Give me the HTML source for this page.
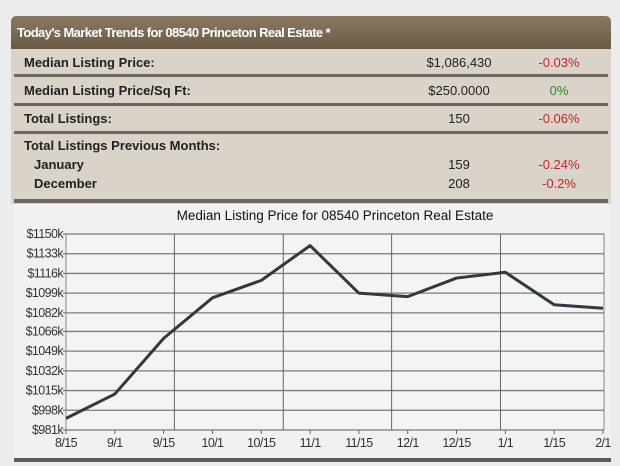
<!DOCTYPE html>
<html><head><meta charset="utf-8"><style>
body{margin:0;width:620px;height:466px;background:#ececec;font-family:"Liberation Sans",sans-serif;position:relative;overflow:hidden}
.abs{position:absolute}
#hdr{left:11px;top:16px;width:600px;height:33px;background:linear-gradient(#8a7a63,#6a5a43);border-radius:5px 5px 0 0;color:#fff;font-weight:bold;font-size:13px;line-height:34px;letter-spacing:-0.6px;padding-left:6px;box-sizing:border-box}
#tbl{left:11px;top:49px;width:600px;height:155px;background:#d9d3ca}
.row{position:absolute;left:0;width:600px;font-size:13px;color:#222}
.lab{position:absolute;left:13px;font-weight:bold}
.val{position:absolute;left:400px;width:96px;text-align:center}
.pct{position:absolute;left:500px;width:96px;text-align:center;color:#c0282a}
.div{position:absolute;left:3px;width:594px;height:3px;background:#6b6660}
</style></head><body>
<div id="hdr" class="abs">Today's Market Trends for 08540 Princeton Real Estate *</div>
<div id="tbl" class="abs">
<div class="row" style="top:6px"><span class="lab">Median Listing Price:</span><span class="val">$1,086,430</span><span class="pct">-0.03%</span></div>
<div class="div" style="top:25px"></div>
<div class="row" style="top:34px"><span class="lab">Median Listing Price/Sq Ft:</span><span class="val">$250.0000</span><span class="pct" style="color:#2a8a2a">0%</span></div>
<div class="div" style="top:54px"></div>
<div class="row" style="top:62px"><span class="lab">Total Listings:</span><span class="val">150</span><span class="pct">-0.06%</span></div>
<div class="div" style="top:82px"></div>
<div class="row" style="top:89px"><span class="lab">Total Listings Previous Months:</span></div>
<div class="row" style="top:108px"><span class="lab" style="left:23px">January</span><span class="val">159</span><span class="pct">-0.24%</span></div>
<div class="row" style="top:127px"><span class="lab" style="left:23px">December</span><span class="val">208</span><span class="pct">-0.2%</span></div>
<div class="div" style="top:150px;height:4px"></div>
</div>
<div class="abs" style="left:14px;top:204px;width:597px;height:254px;background:#f1f1f1"></div>
<div class="abs" style="left:14px;top:458px;width:597px;height:4px;background:#5e5a55"></div>
<svg class="abs" style="left:0;top:0" width="620" height="466" id="chart"></svg>
<script>
const cats=["8/15","9/1","9/15","10/1","10/15","11/1","11/15","12/1","12/15","1/1","1/15","2/1"];
const values=[991,1012,1060,1095,1110,1140,1099,1096,1112,1117,1089,1086];
const yTicks=[981,998,1015,1032,1049,1066,1082,1099,1116,1133,1150];
const vGrid=[2.22,4.45,6.67,8.9];
const svg=document.getElementById('chart');const NS='http://www.w3.org/2000/svg';
const x0=66,x1=603,yTop=234,yBot=430,left=66,right=604;
const X=i=>x0+i*(x1-x0)/(cats.length-1);
const Y=v=>yBot-(v-981)/(1150-981)*(yBot-yTop);
function el(t,a){const e=document.createElementNS(NS,t);for(const k in a)e.setAttribute(k,a[k]);svg.appendChild(e);return e;}
const title=el('text',{x:335,y:220,'text-anchor':'middle','font-size':13.5,fill:'#111','font-family':'Liberation Sans'});
title.textContent='Median Listing Price for 08540 Princeton Real Estate';


el('rect',{x:left,y:yTop,width:right-left,height:yBot-yTop,fill:'#f4f4f4',stroke:'#888'});
yTicks.forEach(v=>{const l=el('line',{x1:left-3,x2:right,y1:Y(v),y2:Y(v),stroke:'#7a7a7a','stroke-width':1.3});


const t=el('text',{x:left-3,y:Y(v)+4,'text-anchor':'end','font-size':12.5,fill:'#333','font-family':'Liberation Sans','letter-spacing':'-0.6'});t.textContent='$'+v+'k';

});
vGrid.forEach(g=>{const l=el('line',{x1:X(g),x2:X(g),y1:yTop,y2:yBot,stroke:'#666','stroke-width':1});

});
cats.forEach((c,i)=>{el('line',{x1:X(i),x2:X(i),y1:yBot,y2:yBot+4,stroke:'#666'});
const t=el('text',{x:X(i),y:yBot+17,'text-anchor':'middle','font-size':12.5,fill:'#333','font-family':'Liberation Sans','letter-spacing':'-0.6'});t.textContent=c;

});
const p=el('polyline',{points:values.map((v,i)=>X(i)+','+Y(v)).join(' '),fill:'none',stroke:'#2f3a40','stroke-width':3,'stroke-linejoin':'round'});


</script>
</body></html>
